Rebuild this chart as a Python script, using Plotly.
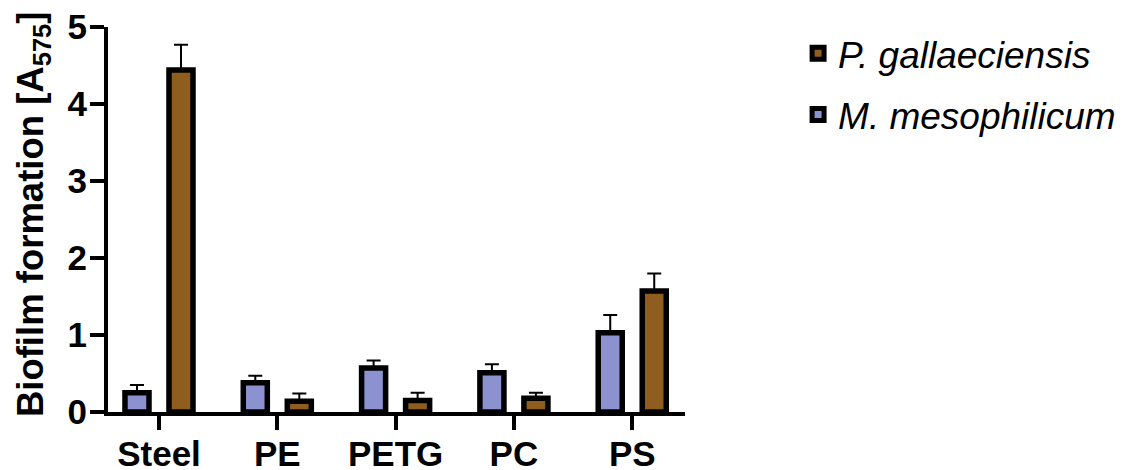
import plotly.graph_objects as go

categories = ["Steel", "PE", "PETG", "PC", "PS"]
m_meso = [0.25, 0.38, 0.57, 0.51, 1.03]
m_meso_err = [0.10, 0.09, 0.10, 0.11, 0.23]
p_gall = [4.44, 0.14, 0.15, 0.18, 1.57]
p_gall_err = [0.33, 0.10, 0.10, 0.07, 0.23]
y_ticks = [0, 1, 2, 3, 4, 5]

BLUE = "#8C92D0"
BROWN = "#8F5E1F"
FONT = "Liberation Sans, Arial, sans-serif"

fig = go.Figure()
fig.add_trace(go.Bar(
    x=categories, y=m_meso, name="<i>M. mesophilicum</i>",
    marker=dict(color=BLUE, line=dict(color="black", width=5.5)),
    error_y=dict(type="data", symmetric=False, array=m_meso_err,
                 arrayminus=[0] * len(m_meso), color="black", thickness=2, width=7),
    legendgroup="m", legendrank=2,
))
fig.add_trace(go.Bar(
    x=categories, y=p_gall, name="<i>P. gallaeciensis</i>",
    marker=dict(color=BROWN, line=dict(color="black", width=5.5)),
    error_y=dict(type="data", symmetric=False, array=p_gall_err,
                 arrayminus=[0] * len(p_gall), color="black", thickness=2, width=7),
    legendgroup="p", legendrank=1,
))

# page body has an 8px margin, so the figure is 8px smaller and margins shifted
fig.update_layout(
    width=1123, height=462,
    margin=dict(l=100, r=446, t=19, b=58, autoexpand=False),
    plot_bgcolor="white", paper_bgcolor="white",
    barmode="group", bargap=0.256, bargroupgap=0.454,
    font=dict(family=FONT, color="black"),
    legend=dict(
        x=1.196, y=1.011, xanchor="left", yanchor="top",
        font=dict(family=FONT, size=37, color="black"),
        traceorder="grouped", tracegroupgap=10,
        bgcolor="rgba(0,0,0,0)",
    ),
    annotations=[dict(
        text="<b>Biofilm formation [A<sub>575</sub>]</b>",
        xref="paper", yref="paper", x=-0.13, y=0.514,
        xanchor="center", yanchor="middle", textangle=-90, showarrow=False,
        font=dict(family=FONT, size=36.5, color="black"),
    )],
)
fig.update_xaxes(
    type="category", range=[-0.431, 4.446], automargin=False,
    showline=True, linecolor="black", linewidth=4,
    ticks="outside", ticklen=14, tickwidth=4, tickcolor="black",
    ticklabelstandoff=-6, ticklabeloverflow="allow",
    tickfont=dict(family=FONT, size=35, color="black", weight="bold"),
    showgrid=False, zeroline=False,
)
fig.update_yaxes(
    range=[0, 5], tickvals=y_ticks, automargin=False,
    showline=True, linecolor="black", linewidth=4,
    ticks="outside", ticklen=14, tickwidth=4, tickcolor="black",
    ticklabelstandoff=-4, ticklabeloverflow="allow",
    tickfont=dict(family=FONT, size=35, color="black", weight="bold"),
    showgrid=False, zeroline=False,
)

fig.write_html("out.html")
